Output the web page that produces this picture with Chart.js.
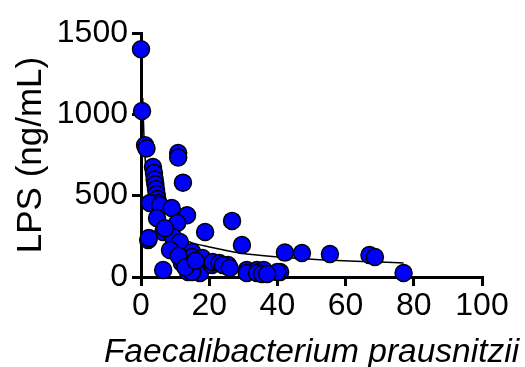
<!DOCTYPE html>
<html>
<head>
<meta charset="utf-8">
<script src="https://cdn.jsdelivr.net/npm/chart.js@4"></script>
<style>
    body { margin: 0; background: #fff; }
    #chart { display: block; }
</style>
</head>
<body>
<canvas id="chart" width="525" height="367"></canvas>
<script>
// abundance of F. prausnitzii (x) vs LPS in ng/mL (y)
const pointsX = [0, 0.3, 1.2, 1.6, 10.9, 10.9, 12.3, 3.5, 3.8, 4, 4.2, 4.4, 4.6, 4.8, 5, 2.6, 5.6, 9, 13.5, 4.7,
    10.6, 18.8, 26.7, 2.1, 6.5, 9.4, 11.4, 8.5, 15, 12, 17.3, 6.5, 13.8, 17.3, 20.8, 29.6, 42.2, 47.2, 55.4, 67,
    68.6, 77, 40.8, 15, 18, 21, 23, 25.5, 31, 34, 36, 40, 15, 31, 34, 35.5, 37, 24, 26, 7, 11, 13, 16, 2.3];
const pointsY = [1400, 1020, 810, 790, 762, 735, 580, 676, 640, 600, 570, 540, 510, 480, 455, 455, 440, 424, 380, 362,
    332, 277, 345, 227, 277, 246, 215, 166, 154, 86, 117, 43, 31, 25, 74, 197, 150, 148, 141, 135,
    123, 25, 31, 123, 117, 92, 86, 74, 43, 43, 43, 31, 31, 25, 25, 18, 18, 74, 55, 300, 130, 60, 100, 240];

// fitted curve
const fitX = [0.5, 1, 2, 3, 5, 8, 12, 15, 20, 29, 40, 55, 77];
const fitY = [1100, 800, 560, 460, 350, 280, 235, 210, 185, 147, 123, 104, 86];

const xTicks = [0, 20, 40, 60, 80, 100];
const yTicks = [0, 500, 1000, 1500];
const xTitle = 'Faecalibacterium prausnitzii';

const family = 'Arial, "Liberation Sans", sans-serif';

// chart.js squeezes axis titles to the axis width, so this one is drawn by hand
const xTitlePlugin = {
    id: 'xTitle',
    afterDraw: function(chart) {
        const scale = chart.scales.x;
        const ctx = chart.ctx;
        ctx.save();
        ctx.fillStyle = '#000';
        ctx.font = 'italic 33.5px ' + family;
        ctx.textAlign = 'center';
        ctx.textBaseline = 'alphabetic';
        ctx.fillText(xTitle, (scale.left + scale.right) / 2, 362);
        ctx.restore();
    }
};

document.addEventListener('DOMContentLoaded', function() {
    const scatterData = pointsX.map(function(x, i) { return { x: x, y: pointsY[i] }; });
    const fitData = fitX.map(function(x, i) { return { x: x, y: fitY[i] }; });

    const tickFont = { family: family, size: 32 };
    const plain = function(value) { return String(value); };

    new Chart(document.getElementById('chart'), {
        type: 'scatter',
        data: {
            datasets: [{
                data: fitData,
                showLine: true,
                borderColor: '#000',
                borderWidth: 1.5,
                pointRadius: 0,
                cubicInterpolationMode: 'monotone',
                clip: false,
                order: 2
            }, {
                data: scatterData,
                backgroundColor: '#0000ff',
                borderColor: '#000',
                borderWidth: 1.5,
                pointRadius: 8.5,
                clip: false,
                order: 1
            }]
        },
        options: {
            responsive: false,
            animation: false,
            layout: { padding: { left: 0, top: 33, right: 43, bottom: 0 } },
            plugins: { legend: { display: false }, tooltip: { enabled: false } },
            scales: {
                x: {
                    type: 'linear',
                    min: 0,
                    max: 100,
                    afterBuildTicks: function(scale) {
                        scale.ticks = xTicks.map(function(v) { return { value: v }; });
                    },
                    afterFit: function(scale) { scale.height = 90; },
                    border: { display: true, color: '#000', width: 3 },
                    grid: { drawOnChartArea: false, drawTicks: true, tickLength: 9, color: '#000', lineWidth: 3 },
                    ticks: { color: '#000', font: tickFont, padding: 1, maxRotation: 0, callback: plain },
                    title: { display: false }
                },
                y: {
                    min: 0,
                    max: 1500,
                    afterBuildTicks: function(scale) {
                        scale.ticks = yTicks.map(function(v) { return { value: v }; });
                    },
                    afterFit: function(scale) { scale.width = 141; },
                    border: { display: true, color: '#000', width: 3 },
                    grid: { drawOnChartArea: false, drawTicks: true, tickLength: 9, color: '#000', lineWidth: 3 },
                    ticks: { color: '#000', font: tickFont, padding: 4, callback: plain },
                    title: {
                        display: true,
                        text: 'LPS (ng/mL)',
                        color: '#000',
                        font: { family: family, size: 35 },
                        padding: { top: 10, bottom: 0 }
                    }
                }
            }
        },
        plugins: [xTitlePlugin]
    });
});
</script>
</body>
</html>
